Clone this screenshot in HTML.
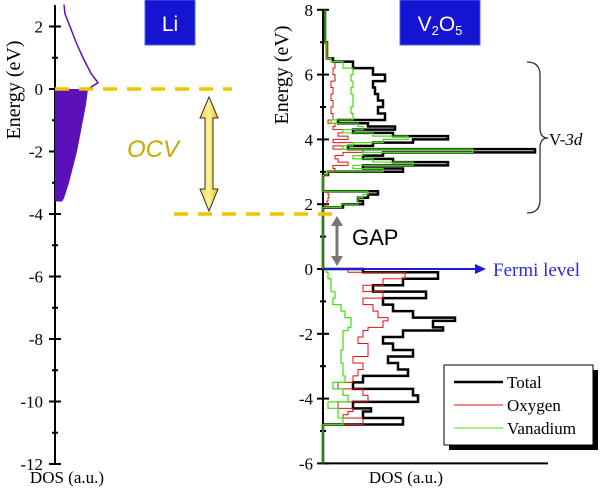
<!DOCTYPE html>
<html><head><meta charset="utf-8"><style>
html,body{margin:0;padding:0;background:#fff;}
svg{display:block;font-family:"Liberation Serif",serif;}
</style></head><body>
<svg width="600" height="495" viewBox="0 0 600 495" xmlns="http://www.w3.org/2000/svg">
<defs>
<linearGradient id="ygr" x1="0" x2="1" y1="0" y2="0"><stop offset="0" stop-color="#f5d23a"/><stop offset="0.5" stop-color="#fff3a0"/><stop offset="1" stop-color="#e8b800"/></linearGradient>
</defs>
<g id="left"></g>
<g id="right"></g>
<g id="anno">
  <rect x="145" y="0" width="50" height="45" fill="#1414d2" stroke="#5060e0"/>
  <text x="170" y="31" text-anchor="middle" font-family="Liberation Sans,sans-serif" font-size="21" fill="#fff">Li</text>
  <rect x="400" y="0" width="80" height="45" fill="#1414d2" stroke="#5060e0"/>
  <text x="440" y="31" text-anchor="middle" font-family="Liberation Sans,sans-serif" font-size="21" fill="#fff">V<tspan font-size="13" dy="4">2</tspan><tspan dy="-4">O</tspan><tspan font-size="13" dy="4">5</tspan></text>
  <line x1="55" y1="89" x2="232" y2="89" stroke="#f2c400" stroke-width="3.5" stroke-dasharray="14,10"/>
  <line x1="174" y1="214" x2="332" y2="214" stroke="#f2c400" stroke-width="3.5" stroke-dasharray="14,10"/>
  <polygon points="209,97 218,118 213,118 213,189 218,189 209,211 200,189 205,189 205,118 200,118" fill="url(#ygr)" stroke="#333" stroke-width="1"/>
  <text x="153" y="157" text-anchor="middle" font-family="Liberation Sans,sans-serif" font-style="italic" font-size="24" fill="#c9a800">OCV</text>
  <line x1="337" y1="224" x2="337" y2="258" stroke="#777" stroke-width="3"/>
  <polygon points="337,216 343,226 331,226" fill="#777"/>
  <polygon points="337,266 343,256 331,256" fill="#777"/>
  <text x="352" y="245" font-family="Liberation Sans,sans-serif" font-size="22" fill="#000">GAP</text>
  <line x1="323" y1="269" x2="478" y2="269" stroke="#1a1ae0" stroke-width="2"/>
  <polygon points="486,269 475,264 475,274" fill="#1a1ae0"/>
  <text x="493" y="276" font-size="19" fill="#2a2ae8">Fermi level</text>
  <path d="M527,62 Q540,62 540,75 L540,128 Q540,138 548,138 Q540,138 540,148 L540,200 Q540,213 527,213" fill="none" stroke="#333" stroke-width="1.3"/>
  <text x="549" y="145" font-size="17" fill="#000">V-<tspan font-style="italic">3d</tspan></text>
  <rect x="449" y="370" width="149" height="80" fill="#000"/>
  <rect x="444" y="365" width="149" height="80" fill="#fff" stroke="#000" stroke-width="1"/>
  <line x1="454" y1="382" x2="503" y2="382" stroke="#000" stroke-width="2.5"/>
  <text x="507" y="388" font-size="17">Total</text>
  <line x1="454" y1="405" x2="503" y2="405" stroke="#e01010" stroke-width="1"/>
  <text x="507" y="411" font-size="17">Oxygen</text>
  <line x1="454" y1="428" x2="503" y2="428" stroke="#44dd10" stroke-width="1"/>
  <text x="507" y="434" font-size="17">Vanadium</text>
</g>
</svg>
<script>
// Li DOS
const liEnergy=[2.7,2.4,2.0,1.5,1.0,0.5,0.2,0,-0.5,-1,-1.5,-2,-2.5,-3,-3.5,-3.6];
const liDos=[9,10,15,21,28,36,43,33,31,28,25,22,18,14,9,7];
const leftTicks=[2,0,-2,-4,-6,-8,-10,-12];
// V2O5 DOS
const energy=[8,7,6.5,6.4,6.2,6.0,5.8,5.6,5.4,5.2,5.0,4.8,4.6,4.5,4.4,4.3,4.2,4.1,4.0,3.9,3.8,3.7,3.6,3.5,3.4,3.3,3.2,3.1,3.0,2.9,2.8,2.4,2.3,2.2,2.1,2.0,1.9,1.8,0,-0.1,-0.3,-0.5,-0.7,-0.9,-1.1,-1.3,-1.5,-1.6,-1.8,-1.9,-2.1,-2.3,-2.5,-2.7,-2.9,-3.1,-3.3,-3.5,-3.7,-3.9,-4.1,-4.3,-4.4,-4.5,-4.6,-4.8,-4.9,-6];
const totalDos=[2,2,4,10,30,50,62,50,52,55,60,55,62,15,45,72,30,70,125,90,50,25,212,60,40,70,125,40,80,5,0,0,55,45,35,40,20,0,0,40,115,80,50,103,60,70,90,132,110,120,80,60,70,90,65,75,85,40,30,90,95,30,48,40,40,80,0,0];
const oxygenDos=[2,2,3,8,12,10,12,8,10,8,10,8,10,5,12,10,20,15,25,10,30,10,40,20,12,15,25,10,12,5,0,0,5,6,5,4,3,0,0,25,82,60,40,60,40,50,55,65,60,45,40,35,45,45,30,40,35,30,15,40,45,15,30,25,20,40,0,0];
const vanadiumDos=[2,2,4,8,20,30,28,30,28,30,30,28,30,8,35,40,20,50,85,60,30,20,150,40,30,50,90,30,60,4,0,0,45,40,35,35,18,0,0,3,5,8,8,12,10,18,22,28,28,25,20,20,20,18,18,20,20,22,10,20,25,5,15,15,15,20,0,0];
const rightTicks=[8,6,4,2,0,-2,-4,-6];
const rightTickLabels=["8","6","4","2","0","-2","-4","-6"];

const NS="http://www.w3.org/2000/svg";
function mk(tag,attrs,parent){const e=document.createElementNS(NS,tag);for(const k in attrs)e.setAttribute(k,attrs[k]);parent.appendChild(e);return e;}
const L=document.getElementById('left'),R=document.getElementById('right');
const ly=e=>89-e*31.25, lx=d=>55+d;
const ry=e=>269-e*32.4, rx=d=>323+d;

let a=mk('line',{x1:55,y1:5,x2:55,y2:464,stroke:'#000','stroke-width':2},L);

for(let v=-12;v<=2;v++){const y=ly(v);const major=v%2===0;mk('line',{x1:major?49:52,y1:y,x2:major?61:58,y2:y,stroke:'#000','stroke-width':2},L);}
leftTicks.forEach(v=>{const t=mk('text',{x:43,y:ly(v)+6,'text-anchor':'end','font-size':17},L);t.textContent=String(v);
});
let t=mk('text',{x:0,y:0,'text-anchor':'middle','font-size':20,transform:'translate(20,90) rotate(-90)'},L);t.textContent='Energy (eV)';

t=mk('text',{x:67,y:483,'text-anchor':'middle','font-size':17},L);t.textContent='DOS (a.u.)';

let fillPts=[[lx(0),ly(0)]];let linePts=[];
liEnergy.forEach((e,i)=>{if(e<=0)fillPts.push([lx(liDos[i]),ly(e)]);if(e>=0)linePts.push([lx(liDos[i]),ly(e)]);});
fillPts.push([lx(0),ly(liEnergy[liEnergy.length-1])]);
let p=mk('polygon',{points:fillPts.map(q=>q.join(',')).join(' '),fill:'#5a12b8'},L);

p=mk('polyline',{points:linePts.map(q=>q.join(',')).join(' '),fill:'none',stroke:'#5a12b8','stroke-width':1.5},L);


a=mk('line',{x1:323,y1:ry(8),x2:323,y2:ry(-6),stroke:'#000','stroke-width':2},R);

a=mk('line',{x1:323,y1:ry(-6),x2:548,y2:ry(-6),stroke:'#000','stroke-width':2},R);

for(let v=-6;v<=8;v++){const y=ry(v);const major=v%2===0;mk('line',{x1:major?317:320,y1:y,x2:major?329:326,y2:y,stroke:'#000','stroke-width':2},R);}
rightTicks.forEach((v,i)=>{const t=mk('text',{x:313,y:ry(v)+6,'text-anchor':'end','font-size':17},R);t.textContent=rightTickLabels[i];
});
t=mk('text',{x:0,y:0,'text-anchor':'middle','font-size':20,transform:'translate(288,75) rotate(-90)'},R);t.textContent='Energy (eV)';

t=mk('text',{x:406,y:483,'text-anchor':'middle','font-size':17},R);t.textContent='DOS (a.u.)';

function stepLine(vals){let pts=[];for(let i=0;i<energy.length;i++){if(i>0)pts.push([rx(vals[i]),ry(energy[i-1])]);pts.push([rx(vals[i]),ry(energy[i])]);}return pts.map(q=>q.join(',')).join(' ');}
p=mk('polyline',{points:stepLine(totalDos),fill:'none',stroke:'#000','stroke-width':2.5},R);

p=mk('polyline',{points:stepLine(oxygenDos),fill:'none',stroke:'#e01010','stroke-width':1},R);

p=mk('polyline',{points:stepLine(vanadiumDos),fill:'none',stroke:'#44dd10','stroke-width':1.2},R);

</script>
</body></html>
